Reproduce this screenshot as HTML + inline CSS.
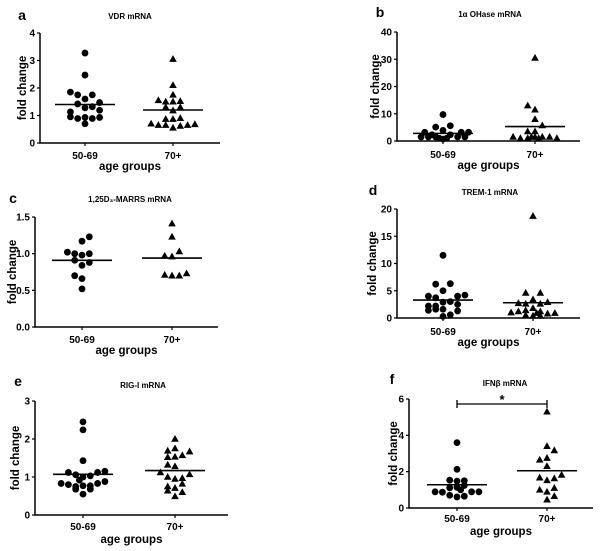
<!DOCTYPE html>
<html><head><meta charset="utf-8"><style>
html,body{margin:0;padding:0;background:#fff;}
svg{display:block;font-family:"Liberation Sans",Arial,sans-serif;}
</style></head><body>
<svg id="fig" width="600" height="551" viewBox="0 0 600 551" xmlns="http://www.w3.org/2000/svg"></svg>
<script>
const categories = ["50-69", "70+"];
const aCircVals = [3.27,2.47,1.85,1.75,1.75,1.6,1.42,1.47,1.13,1.28,1.32,1.19,0.95,0.89,0.93,0.89,0.93,0.7];
const aCircSlots = [0,0,-2,-1,1,0,-1,2,-2,0,1,2,-2,-1,0,1,2,0];
const aTriVals = [3.05,2.1,1.75,1.55,1.5,1.5,1.52,1.3,1.3,1.18,0.87,0.87,0.9,0.7,0.65,0.65,0.55,0.62,0.65,0.68];
const aTriSlots = [0,0,0,-2,-1,0,1,-1,1,0,-1,0,1,-3,-2,-1,0,1,2,3];
const aMeans = [1.4, 1.2];
const aTicks = [0,1,2,3,4];
const bCircVals = [9.7,5.1,5.6,3.9,3.2,3.2,3.2,2.3,2.3,1.5,1.5,1.5,1.5,1.5,1,1,0.7];
const bCircSlots = [0,-1,1,0,-2.5,3.5,2.5,-1.5,1,-3,-2,-1,2,3,-0.5,0.5,0];
const bTriVals = [30.5,13,11.5,8,5.7,3.5,3.5,1.5,1,1,1.5,1.5,1.5,1,1.5,1];
const bTriSlots = [0,-1,0,0,1,-1,0,-3,-2,-1,0,1,2,3,-0.5,0.5];
const bMeans = [2.8, 5.3];
const bTicks = [0,10,20,30,40];
const cCircVals = [0.52,0.66,0.7,0.84,0.88,0.91,1.02,1.0,0.98,1.0,1.17,1.23];
const cCircSlots = [0,0,-1,0,1,-1,-2,-1,0,1,0,1];
const cTriVals = [1.41,1.23,1.03,0.97,0.96,0.71,0.7,0.7,0.73];
const cTriSlots = [0,0,1,-1,0,-1,0,1,2];
const cMeans = [0.91, 0.94];
const cTicks = ["0.0","0.5","1.0","1.5"];
const dCircVals = [11.5,6.2,6.3,5,4,3.7,4,4.2,2.9,3,2.2,2.2,2.5,1.4,1.6,1.6,1.3,0.3,0.6];
const dCircSlots = [0,-1,1,0,-2,-1,2,3,0,1,-2,-1,2,-2,-1,0,2,0,1];
const dTriVals = [18.7,4.6,4.6,3.4,2.7,2.6,2.6,2.9,1.8,1,1.2,1.4,1.2,0.8,0.9,0.5,0.4,0.4,0.9];
const dTriSlots = [0,-1,1,0,-2,-1,1,2,0,-3,-2,-1,1,2,3,-1,0,1,0.5];
const dMeans = [3.3, 2.8];
const dTicks = [0,5,10,15,20];
const eCircVals = [2.45,2.24,1.43,1.12,1.06,1.12,1.15,1.03,1.0,0.92,0.83,0.8,0.75,0.77,0.77,0.83,0.88,0.68,0.68,0.55];
const eCircSlots = [0,0,0,-2,-1,2,3,1,0,-0.5,-3,-2,-1,0,1,2,3,-1,1,0];
const eTriVals = [2.0,1.69,1.75,1.57,1.67,1.52,1.53,1.32,1.28,1.12,1.0,0.95,0.97,1.07,0.75,0.71,0.82,0.64,0.6,0.49];
const eTriSlots = [0,-1,0,1,2,-1,0,-1,0,-2,-1,0,1,2,-1,0,1,-1,1,0];
const eMeans = [1.07, 1.17];
const eTicks = [0,1,2,3];
const fCircVals = [3.6,2.13,1.53,1.48,1.5,1.11,1.14,1.24,1.0,0.89,0.87,0.89,0.89,0.7,0.61,0.65];
const fCircSlots = [0,0,-1,0,1,-1,0,1,0.5,-3,-2,2,3,-1,0,1];
const fTriVals = [5.3,3.4,3.17,2.65,2.75,2.3,1.67,1.52,1.63,1.82,1.0,1.1,0.89,0.65,0.46];
const fTriSlots = [0,0,1,-1,0,0,-1,0,1,2,-1,1,0,1,0];
const fMeans = [1.28, 2.05];
const fTicks = [0,2,4,6];

const panels = [
 {id:"a",title:"VDR mRNA",x0:40,x1:220,y0:143,yT:33,max:4,ticks:aTicks,cx:[85,173],tx:130,ty:19,lx:22,ly:20,tl:159,ag:170,yl:22,circ:[aCircVals,aCircSlots],tri:[aTriVals,aTriSlots],means:aMeans},
 {id:"b",title:"1\u03b1 OHase mRNA",x0:397,x1:580,y0:141,yT:32,max:40,ticks:bTicks,cx:[443,535],tx:490,ty:17,lx:380,ly:17,tl:158,ag:169,yl:375,circ:[bCircVals,bCircSlots],tri:[bTriVals,bTriSlots],means:bMeans},
 {id:"c",title:"1,25D\u2083-MARRS mRNA",x0:35,x1:218,y0:327,yT:217,max:1.5,ticks:cTicks,cx:[82,172],tx:130,ty:202,lx:13,ly:203,tl:343,ag:354,yl:12,circ:[cCircVals,cCircSlots],tri:[cTriVals,cTriSlots],means:cMeans},
 {id:"d",title:"TREM-1 mRNA",x0:397,x1:580,y0:318,yT:209,max:20,ticks:dTicks,cx:[443,533],tx:490,ty:195,lx:373,ly:195,tl:335,ag:346,yl:372,circ:[dCircVals,dCircSlots],tri:[dTriVals,dTriSlots],means:dMeans},
 {id:"e",title:"RIG-I mRNA",x0:35,x1:228,y0:515,yT:401,max:3,ticks:eTicks,cx:[83,175],tx:143,ty:388,lx:18,ly:386,tl:530,ag:543,yl:15,circ:[eCircVals,eCircSlots],tri:[eTriVals,eTriSlots],means:eMeans},
 {id:"f",title:"IFN\u03b2 mRNA",x0:409,x1:593,y0:508,yT:399,max:6,ticks:fTicks,cx:[457,547],tx:505,ty:386,lx:392,ly:384,tl:522,ag:535,yl:393,circ:[fCircVals,fCircSlots],tri:[fTriVals,fTriSlots],means:fMeans,sig:true}
];
const NS="http://www.w3.org/2000/svg";
const svg=document.getElementById("fig");
function mk(tag,attrs,parent,text){const e=document.createElementNS(NS,tag);for(const k in attrs)e.setAttribute(k,attrs[k]);if(text!==undefined)e.textContent=text;parent.appendChild(e);return e;}
const SLOT=7.3;
panels.forEach(p=>{
  const g=mk("g",{},svg);
  
  
  const ys=v=>p.y0-(v/p.max)*(p.y0-p.yT);
  const t1=mk("text",{x:p.lx,y:p.ly,"font-size":"14","font-weight":"bold","text-anchor":"middle"},g,p.id);
  
  
  const t2=mk("text",{x:p.tx,y:p.ty,"font-size":"8","font-weight":"bold","text-anchor":"middle"},g,p.title);
  
  
  const ax=mk("path",{d:`M${p.x0} ${p.yT}V${p.y0}H${p.x1}`,stroke:"#000","stroke-width":"1.5",fill:"none"},g);
  
  
  p.ticks.forEach(t=>{
    const v=parseFloat(t);const y=ys(v);
    mk("line",{x1:p.x0-3,x2:p.x0,y1:y,y2:y,stroke:"#000","stroke-width":"1.2"},g);
    const tl=mk("text",{x:p.x0-5,y:y+3.5,"font-size":"10","font-weight":"bold","text-anchor":"end"},g,String(t));
    
    
  });
  categories.forEach((c,i)=>{
    mk("line",{x1:p.cx[i],x2:p.cx[i],y1:p.y0,y2:p.y0+3,stroke:"#000","stroke-width":"1.2"},g);
    const xl=mk("text",{x:p.cx[i],y:p.tl,"font-size":"10","font-weight":"bold","text-anchor":"middle"},g,c);
    
    
  });
  const at=mk("text",{x:(p.x0+p.x1)/2,y:p.ag,"font-size":"11.5","font-weight":"bold","text-anchor":"middle"},g,"age groups");
  
  
  const yc=(p.y0+p.yT)/2;
  const yt=mk("text",{x:p.yl,y:yc,"font-size":"11.5","font-weight":"bold","text-anchor":"middle",transform:`rotate(-90 ${p.yl} ${yc}) translate(0 4)`},g,"fold change");
  
  
  p.circ[0].forEach((v,i)=>{
    const c=mk("circle",{cx:p.cx[0]+p.circ[1][i]*SLOT,cy:ys(v),r:3.4,fill:"#000"},g);
    
    
  });
  p.tri[0].forEach((v,i)=>{
    const x=p.cx[1]+p.tri[1][i]*SLOT,y=ys(v);
    const t=mk("polygon",{points:`${x},${y-4} ${x-3.8},${y+2.8} ${x+3.8},${y+2.8}`,fill:"#000"},g);
    
    
  });
  p.means.forEach((m,i)=>{
    const l=mk("line",{x1:p.cx[i]-30,x2:p.cx[i]+30,y1:ys(m),y2:ys(m),stroke:"#000","stroke-width":"1.6"},g);
    
    
  });
  if(p.sig){
    const by=404;
    const b=mk("path",{d:`M${p.cx[0]} ${by-4}V${by+4}M${p.cx[0]} ${by}H${p.cx[1]}M${p.cx[1]} ${by-4}V${by+4}`,stroke:"#000","stroke-width":"1.3",fill:"none"},g);
    
    
    const s=mk("text",{x:(p.cx[0]+p.cx[1])/2,y:by,"font-size":"13","font-weight":"bold","text-anchor":"middle"},g,"*");
    
    
  }
});
</script>
</body></html>
